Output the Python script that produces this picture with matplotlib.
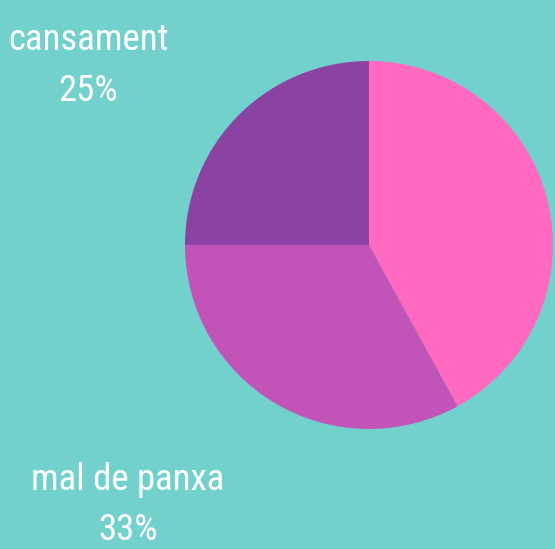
import matplotlib
matplotlib.use('Agg')
import matplotlib.pyplot as plt

labels = ['', 'mal de panxa', 'cansament']
values = [42, 33, 25]
colors = ['#FF69BF', '#C254B9', '#8A42A3']
bg = '#72D1CC'

W, H, DPI = 555, 549, 100
fig = plt.figure(figsize=(W / DPI, H / DPI), dpi=DPI, facecolor=bg)

# pie centre / radius in pixels
cx, cy, r = 369, 245, 184
ax = fig.add_axes([(cx - r) / W, (H - cy - r) / H, 2 * r / W, 2 * r / H])
ax.set_facecolor(bg)
ax.pie(values, colors=colors, startangle=90, counterclock=False,
       wedgeprops=dict(linewidth=0))
ax.set_xlim(-1, 1)
ax.set_ylim(-1, 1)
ax.axis('off')

# outside labels (the first one falls off the canvas)
label_pos = {1: (128, 480, 530), 2: (88, 40, 91)}
total = sum(values)
for i, (x, y1, y2) in label_pos.items():
    pct = '{:.0f}%'.format(100 * values[i] / total)
    fig.text(x / W, 1 - y1 / H, labels[i], color='white', fontsize=26.5,
             family=['Roboto Condensed', 'Roboto'], ha='center', va='center')
    fig.text(x / W, 1 - y2 / H, pct, color='white', fontsize=26.5,
             family=['Roboto Condensed', 'Roboto'], ha='center', va='center')

fig.savefig('out.png', dpi=DPI, facecolor=bg)
